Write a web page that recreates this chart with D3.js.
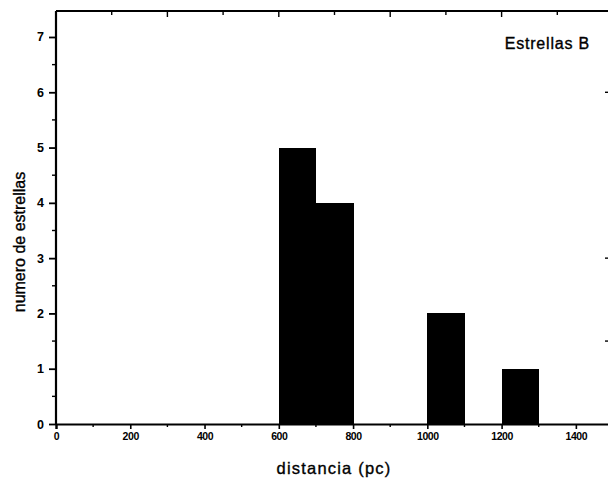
<!DOCTYPE html>
<html>
<head>
<meta charset="utf-8">
<script src="https://cdn.jsdelivr.net/npm/d3@7"></script>
<style>
  body { margin: 0; background: #fff; }
  svg { display: block; font-family: "Liberation Sans", Arial, sans-serif; }
  .tick text { font-weight: bold; fill: #000; }
  .xax .tick text { font-size: 10.5px; letter-spacing: -0.4px; }
  .yax .tick text { font-size: 12.5px; }
  .lbl { stroke: #000; stroke-width: 0.35px; }
</style>
</head>
<body>
<div id="graph"></div>
<script>
// data: histogram of distances, bins of 100 pc
var binStarts = [0, 100, 200, 300, 400, 500, 600, 700, 800, 900, 1000, 1100, 1200, 1300, 1400];
var counts    = [0, 0, 0, 0, 0, 0, 5, 4, 0, 0, 2, 0, 1, 0, 0];
var xTicks = [0, 200, 400, 600, 800, 1000, 1200, 1400];
var yTicks = [0, 1, 2, 3, 4, 5, 6, 7];

var width = 608, height = 481;
var padL = 56, padT = 11, padB = 424, padR = 613;

var svg = d3.select("#graph")
            .append("svg")
            .attr("width", width).attr("height", height);

var xScale = d3.scaleLinear().domain([0, 1500]).range([padL, padR]);
var yScale = d3.scaleLinear().domain([0, 7.47]).range([padB, padT]);

// bars (crisp edges so neighbouring bins join without a seam)
svg.selectAll("rect.bar")
   .data(binStarts.map(function(b, i) { return {x0: b, x1: b + 100, n: counts[i]}; }).filter(function(d) { return d.n > 0; }))
   .enter()
   .append("rect")
   .attr("class", "bar")
   .attr("x", function(d) { return xScale(d.x0); })
   .attr("width", function(d) { return xScale(d.x1) - xScale(d.x0) + 0.5; })
   .attr("y", function(d) { return yScale(d.n); })
   .attr("height", function(d) { return yScale(0) - yScale(d.n); })
   .attr("fill", "#000")
   .attr("shape-rendering", "crispEdges");

// bottom axis
var xAxis = d3.axisBottom(xScale).tickValues(xTicks).tickSize(5).tickPadding(4).tickFormat(d3.format("d"));
var gx = svg.append("g")
    .attr("class", "axis xax")
    .attr("transform", "translate(0," + padB + ")")
    .call(xAxis);
gx.select(".domain").attr("stroke-width", 2.2);
gx.selectAll(".tick line").attr("stroke-width", 1.6);

// minor bottom ticks
svg.selectAll("line.xminor")
   .data([100, 300, 500, 700, 900, 1100, 1300])
   .enter().append("line")
   .attr("x1", function(d) { return xScale(d); }).attr("x2", function(d) { return xScale(d); })
   .attr("y1", padB).attr("y2", padB + 3)
   .attr("stroke", "#000").attr("stroke-width", 1.4);

// left axis
var yAxis = d3.axisLeft(yScale).tickValues(yTicks).tickSize(7).tickPadding(5);
var gy = svg.append("g")
    .attr("class", "axis yax")
    .attr("transform", "translate(" + padL + ",0)")
    .call(yAxis);
gy.select(".domain").attr("stroke-width", 2.2).attr("d", "M0," + padB + "V" + padT);
gy.selectAll(".tick line").attr("stroke-width", 1.8);

// minor left ticks
svg.selectAll("line.yminor")
   .data([0.5, 1.5, 2.5, 3.5, 4.5, 5.5, 6.5])
   .enter().append("line")
   .attr("x1", padL - 4).attr("x2", padL)
   .attr("y1", function(d) { return yScale(d); }).attr("y2", function(d) { return yScale(d); })
   .attr("stroke", "#000").attr("stroke-width", 1.4);

// top frame with inward ticks
svg.append("line")
   .attr("x1", padL).attr("x2", padR)
   .attr("y1", padT).attr("y2", padT)
   .attr("stroke", "#000").attr("stroke-width", 2.2);
svg.selectAll("line.xtop")
   .data([150, 300, 450, 600, 750, 900, 1050, 1200, 1350])
   .enter().append("line")
   .attr("x1", function(d) { return xScale(d); }).attr("x2", function(d) { return xScale(d); })
   .attr("y1", padT).attr("y2", function(d) { return padT + (d % 300 === 0 ? 6 : 4); })
   .attr("stroke", "#000").attr("stroke-width", 1.4);

// right frame ticks (frame itself falls just outside the picture)
svg.selectAll("line.yright")
   .data([1.5, 3, 6])
   .enter().append("line")
   .attr("x1", 605).attr("x2", 609)
   .attr("y1", function(d) { return yScale(d); }).attr("y2", function(d) { return yScale(d); })
   .attr("stroke", "#000").attr("stroke-width", 1.4);

// labels
svg.append("text")
   .attr("class", "lbl")
   .attr("x", 334).attr("y", 474)
   .attr("text-anchor", "middle")
   .attr("font-size", 16.5)
   .attr("letter-spacing", 1.2)
   .text("distancia (pc)");

svg.append("text")
   .attr("class", "lbl")
   .attr("transform", "translate(25,242) rotate(-90)")
   .attr("text-anchor", "middle")
   .attr("font-size", 16)
   .text("numero de estrellas");

svg.append("text")
   .attr("class", "lbl")
   .attr("x", 590).attr("y", 49)
   .attr("text-anchor", "end")
   .attr("font-size", 16)
   .attr("letter-spacing", 0.8)
   .text("Estrellas B");
</script>
</body>
</html>
